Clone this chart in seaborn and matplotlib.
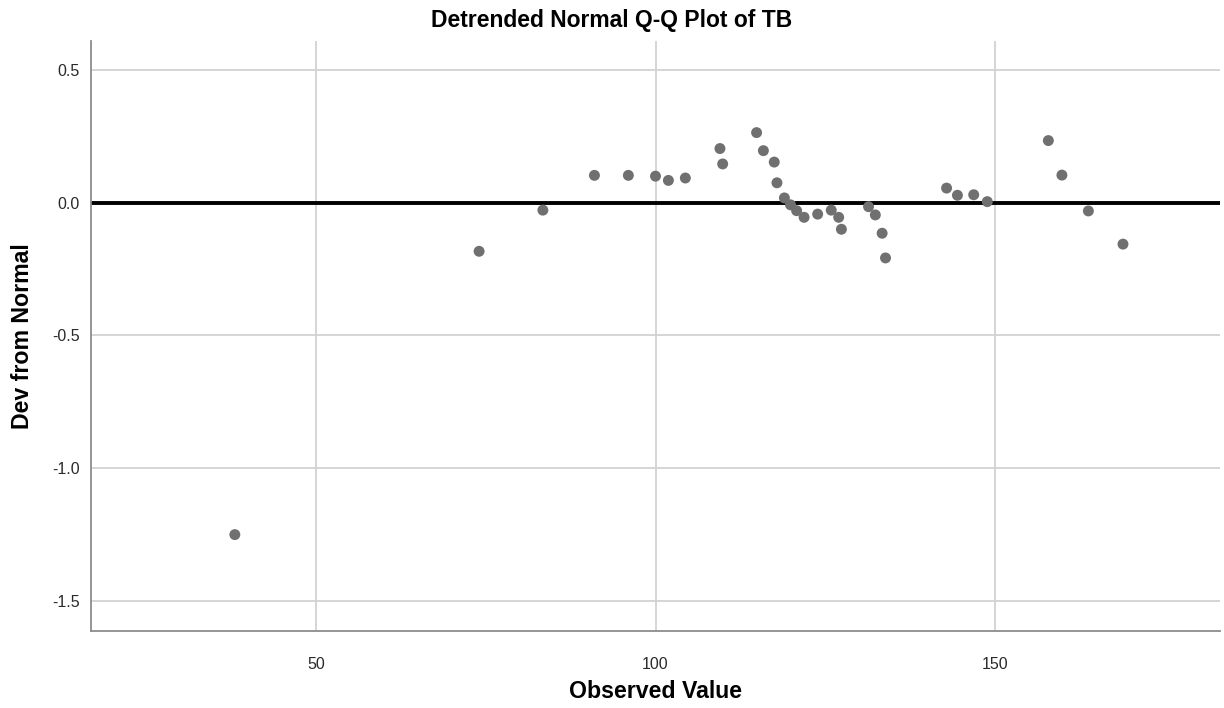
import matplotlib
matplotlib.use("Agg")
import matplotlib.pyplot as plt
import seaborn as sns
import pandas as pd

# Observed TB values and their deviation from the normal expectation
observed = [38.0, 74.0, 83.4, 91.0, 96.0, 100.0, 101.9, 104.4, 109.5, 109.9,
            114.9, 115.9, 117.5, 117.9, 119.0, 119.9, 120.8, 121.9, 123.9, 125.9,
            127.0, 127.4, 131.4, 132.4, 133.4, 133.9, 142.9, 144.5, 146.9, 148.9,
            157.9, 159.9, 163.8, 168.9]
deviation = [-1.250, -0.183, -0.028, 0.103, 0.103, 0.100, 0.084, 0.093, 0.204, 0.146,
             0.264, 0.196, 0.153, 0.075, 0.018, -0.008, -0.030, -0.055, -0.043, -0.028,
             -0.055, -0.100, -0.015, -0.046, -0.115, -0.208, 0.055, 0.028, 0.030, 0.004,
             0.234, 0.104, -0.031, -0.156]

x_ticks = [50, 100, 150]
y_ticks = [0.5, 0.0, -0.5, -1.0, -1.5]

df = pd.DataFrame({"Observed Value": observed, "Dev from Normal": deviation})

sns.set_theme(style="white")
plt.rcParams["font.family"] = ["Liberation Sans", "DejaVu Sans"]

W, H = 1224, 708
fig = plt.figure(figsize=(W / 100, H / 100), dpi=100)
ax_left, ax_right, ax_top, ax_bottom = 91, 1220, 41, 631
ax = fig.add_axes([ax_left / W, 1 - ax_bottom / H,
                   (ax_right - ax_left) / W, (ax_bottom - ax_top) / H])

ax.set_xlim(16.8, 183.2)
ax.set_ylim(-1.613, 0.609)
ax.set_xticks(x_ticks)
ax.set_yticks(y_ticks)
ax.set_xticklabels([str(t) for t in x_ticks])
ax.set_yticklabels([f"{t:.1f}" for t in y_ticks])

ax.grid(True, color="#d2d2d2", linewidth=1.3)
ax.set_axisbelow(True)

# reference line at zero deviation
ax.axhline(0.0, color="black", linewidth=2.8, zorder=2)

sns.scatterplot(data=df, x="Observed Value", y="Dev from Normal", ax=ax,
                color="#707070", s=62, edgecolor="none", zorder=3)

for side in ("top", "right"):
    ax.spines[side].set_visible(False)
for side in ("left", "bottom"):
    ax.spines[side].set_color("#8c8c8c")
    ax.spines[side].set_linewidth(1.3)

ax.tick_params(axis="both", length=0, labelsize=11.5, colors="#2a2a2a")
ax.tick_params(axis="x", pad=19)
ax.tick_params(axis="y", pad=8)

ax.set_xlabel("Observed Value", fontsize=16.7, fontweight="bold", color="black")
ax.set_ylabel("Dev from Normal", fontsize=16.7, fontweight="bold", color="black")
ax.xaxis.label.set_va("center")
ax.yaxis.label.set_va("center")
ax.xaxis.set_label_coords(0.5, (ax_bottom - 691) / (ax_bottom - ax_top))
ax.yaxis.set_label_coords((23 - ax_left) / (ax_right - ax_left), 0.5)

fig.text(0.5, 1 - 20.5 / H, "Detrended Normal Q-Q Plot of TB", fontsize=16.5,
         fontweight="bold", color="black", ha="center", va="center")

fig.savefig("out.png", dpi=100)
